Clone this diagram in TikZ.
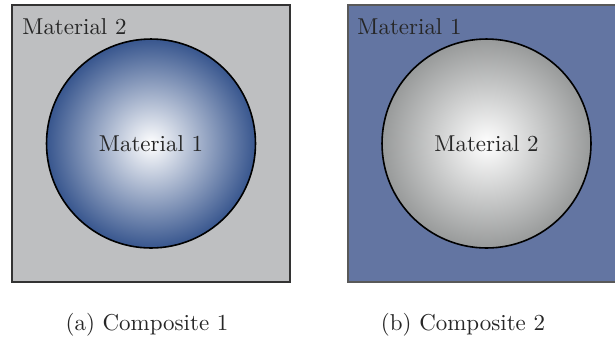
\documentclass[tikz,border=0pt]{standalone}
\usepackage{tikz}
\definecolor{matgray}{RGB}{190,191,193}
\definecolor{matblue}{RGB}{99,117,162}
\definecolor{ballblue}{RGB}{56,86,142}
\definecolor{ballgray}{RGB}{152,154,154}
\begin{document}
\begin{tikzpicture}[
        x=0.4355pt, y=-0.4355pt,
        square/.style={rectangle, draw, line width=0.7pt, minimum width=121pt, minimum height=120.6pt, inner sep=0pt},
        inclusion/.style={circle, draw=black, line width=0.7pt, minimum size=91pt, inner sep=0pt},
        label/.style={inner sep=0pt, text=black!85}
    ]
        \clip (0,0) rectangle (615,340);
        \useasboundingbox (0,0) rectangle (615,340);

        % composite 1
        \node[square, fill=matgray, draw=black!80] (sqA) at (151,143.5) {};
        \node[inclusion, inner color=white, outer color=ballblue] (ballA) at (151,143.5) {};
        \node[label, anchor=base west] (outA) at (22,34) {Material 2};
        \node[label] (inA) at (ballA) {Material 1};
        \node[label, anchor=base] (capA) at (147,330) {(a) Composite 1};

        % composite 2
        \node[square, fill=matblue, draw=black!65] (sqB) at (487,143.5) {};
        \node[inclusion, inner color=white, outer color=ballgray] (ballB) at (486.5,143.5) {};
        \node[label, anchor=base west] (outB) at (357,34) {Material 1};
        \node[label] (inB) at (ballB) {Material 2};
        \node[label, anchor=base] (capB) at (463,330) {(b) Composite 2};
    \end{tikzpicture}
\end{document}
